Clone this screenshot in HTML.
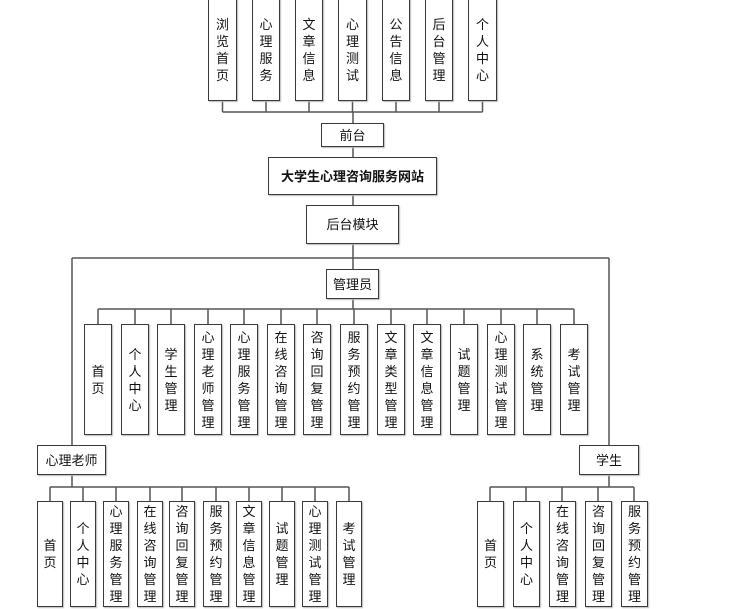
<!DOCTYPE html>
<html><head><meta charset="utf-8"><style>
body{margin:0;width:729px;height:609px;background:#fff;position:relative;overflow:hidden;font-family:"Liberation Sans","Noto Sans CJK SC",sans-serif;color:#111}
svg{position:absolute;left:0;top:0}
.b{position:absolute;box-sizing:border-box;border:1.5px solid #3a3a3a;background:#fff;display:flex;align-items:center;justify-content:center;text-align:center;font-size:13px;line-height:17px;box-shadow:1px 1px 1px #bbb}
</style></head><body>
<svg width="729" height="609" stroke="#555" stroke-width="1.5" fill="none">
<path d="M222.5 101V112M266 101V112M309 101V112M352.5 101V112M396 101V112M439 101V112M482.5 101V112M222.5 112H482.5"/>
<path d="M353 112V123M353 147V157M353 195V205M353 244V258M72 258H609M353 258V269M353 299V309"/>
<path d="M98 309H574M98 309V324M135 309V324M171 309V324M208 309V324M244 309V324M281 309V324M317 309V324M354 309V324M391 309V324M427 309V324M464 309V324M501 309V324M537 309V324M574 309V324"/>
<path d="M72 258V445M72 475V487M50 487H349M50 487V501M83 487V501M116 487V501M150 487V501M182 487V501M216 487V501M249 487V501M282 487V501M315 487V501M349 487V501"/>
<path d="M609 258V445M609 475V487M490 487H634M490 487V501M526 487V501M562 487V501M598 487V501M634 487V501"/>
</svg>
<div class="b" style="left:208px;top:-2px;width:29px;height:103px">浏<br>览<br>首<br>页</div>
<div class="b" style="left:252px;top:-2px;width:28px;height:103px">心<br>理<br>服<br>务</div>
<div class="b" style="left:295px;top:-2px;width:28px;height:103px">文<br>章<br>信<br>息</div>
<div class="b" style="left:338px;top:-2px;width:29px;height:103px">心<br>理<br>测<br>试</div>
<div class="b" style="left:382px;top:-2px;width:28px;height:103px">公<br>告<br>信<br>息</div>
<div class="b" style="left:425px;top:-2px;width:28px;height:103px">后<br>台<br>管<br>理</div>
<div class="b" style="left:468px;top:-2px;width:29px;height:103px">个<br>人<br>中<br>心</div>
<div class="b" style="left:321px;top:123px;width:63px;height:24px">前台</div>
<div class="b" style="left:268px;top:157px;width:169px;height:38px;font-weight:bold">大学生心理咨询服务网站</div>
<div class="b" style="left:306px;top:205px;width:93px;height:39px">后台模块</div>
<div class="b" style="left:326px;top:269px;width:53px;height:30px">管理员</div>
<div class="b" style="left:84px;top:324px;width:28px;height:111px">首<br>页</div>
<div class="b" style="left:121px;top:324px;width:28px;height:111px">个<br>人<br>中<br>心</div>
<div class="b" style="left:157px;top:324px;width:28px;height:111px">学<br>生<br>管<br>理</div>
<div class="b" style="left:194px;top:324px;width:28px;height:111px">心<br>理<br>老<br>师<br>管<br>理</div>
<div class="b" style="left:230px;top:324px;width:28px;height:111px">心<br>理<br>服<br>务<br>管<br>理</div>
<div class="b" style="left:267px;top:324px;width:28px;height:111px">在<br>线<br>咨<br>询<br>管<br>理</div>
<div class="b" style="left:303px;top:324px;width:28px;height:111px">咨<br>询<br>回<br>复<br>管<br>理</div>
<div class="b" style="left:340px;top:324px;width:28px;height:111px">服<br>务<br>预<br>约<br>管<br>理</div>
<div class="b" style="left:377px;top:324px;width:28px;height:111px">文<br>章<br>类<br>型<br>管<br>理</div>
<div class="b" style="left:413px;top:324px;width:28px;height:111px">文<br>章<br>信<br>息<br>管<br>理</div>
<div class="b" style="left:450px;top:324px;width:28px;height:111px">试<br>题<br>管<br>理</div>
<div class="b" style="left:487px;top:324px;width:28px;height:111px">心<br>理<br>测<br>试<br>管<br>理</div>
<div class="b" style="left:523px;top:324px;width:28px;height:111px">系<br>统<br>管<br>理</div>
<div class="b" style="left:560px;top:324px;width:28px;height:111px">考<br>试<br>管<br>理</div>
<div class="b" style="left:37px;top:445px;width:69px;height:30px">心理老师</div>
<div class="b" style="left:37px;top:501px;width:26px;height:106px">首<br>页</div>
<div class="b" style="left:70px;top:501px;width:26px;height:106px">个<br>人<br>中<br>心</div>
<div class="b" style="left:103px;top:501px;width:26px;height:106px">心<br>理<br>服<br>务<br>管<br>理</div>
<div class="b" style="left:137px;top:501px;width:26px;height:106px">在<br>线<br>咨<br>询<br>管<br>理</div>
<div class="b" style="left:169px;top:501px;width:26px;height:106px">咨<br>询<br>回<br>复<br>管<br>理</div>
<div class="b" style="left:203px;top:501px;width:26px;height:106px">服<br>务<br>预<br>约<br>管<br>理</div>
<div class="b" style="left:236px;top:501px;width:26px;height:106px">文<br>章<br>信<br>息<br>管<br>理</div>
<div class="b" style="left:269px;top:501px;width:26px;height:106px">试<br>题<br>管<br>理</div>
<div class="b" style="left:302px;top:501px;width:26px;height:106px">心<br>理<br>测<br>试<br>管<br>理</div>
<div class="b" style="left:336px;top:501px;width:26px;height:106px">考<br>试<br>管<br>理</div>
<div class="b" style="left:579px;top:445px;width:60px;height:30px">学生</div>
<div class="b" style="left:477px;top:501px;width:27px;height:106px">首<br>页</div>
<div class="b" style="left:513px;top:501px;width:27px;height:106px">个<br>人<br>中<br>心</div>
<div class="b" style="left:549px;top:501px;width:27px;height:106px">在<br>线<br>咨<br>询<br>管<br>理</div>
<div class="b" style="left:585px;top:501px;width:27px;height:106px">咨<br>询<br>回<br>复<br>管<br>理</div>
<div class="b" style="left:621px;top:501px;width:27px;height:106px">服<br>务<br>预<br>约<br>管<br>理</div>
</body></html>
